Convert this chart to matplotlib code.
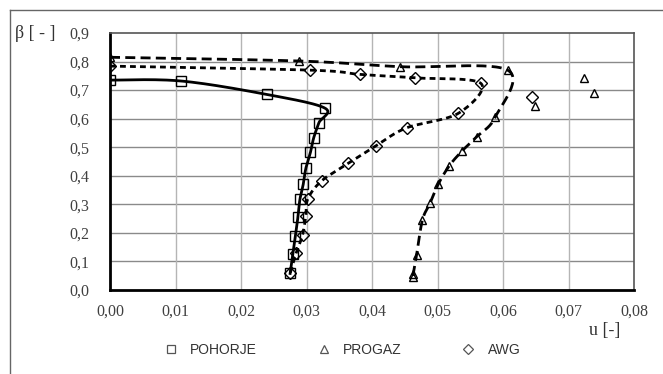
import numpy as np
import matplotlib
matplotlib.use("Agg")
import matplotlib.pyplot as plt
from matplotlib.lines import Line2D

# measured points, (u, beta) along each curve
pohorje_u = [0.0000, 0.0108, 0.0239, 0.0328, 0.0319, 0.0311, 0.0306, 0.0299,
             0.0295, 0.0290, 0.0287, 0.0283, 0.0279, 0.0275]
pohorje_b = [0.735, 0.732, 0.685, 0.637, 0.586, 0.533, 0.482, 0.426,
             0.370, 0.318, 0.257, 0.189, 0.125, 0.058]

progaz_u = [0.0000, 0.0288, 0.0443, 0.0607, 0.0588, 0.0560, 0.0538, 0.0518,
            0.0501, 0.0489, 0.0477, 0.0468, 0.0463, 0.0462]
progaz_b = [0.815, 0.802, 0.782, 0.770, 0.605, 0.537, 0.488, 0.435,
            0.370, 0.306, 0.245, 0.122, 0.056, 0.046]

awg_u = [0.0000, 0.0305, 0.0382, 0.0465, 0.0566, 0.0532, 0.0453, 0.0406,
         0.0364, 0.0323, 0.0302, 0.0299, 0.0294, 0.0284, 0.0275]
awg_b = [0.784, 0.770, 0.755, 0.743, 0.724, 0.619, 0.568, 0.505,
         0.444, 0.382, 0.319, 0.259, 0.193, 0.128, 0.058]

# loose points not on the curves
progaz_extra_u = [0.0724, 0.0739, 0.0649]
progaz_extra_b = [0.741, 0.691, 0.644]
awg_extra_u = [0.0645]
awg_extra_b = [0.675]

x_ticks = [0.00, 0.01, 0.02, 0.03, 0.04, 0.05, 0.06, 0.07, 0.08]
y_ticks = [0.0, 0.1, 0.2, 0.3, 0.4, 0.5, 0.6, 0.7, 0.8, 0.9]

W, H = 663, 374
AX_L, AX_R, AX_T, AX_B = 110, 634, 33, 290
# pixels per data unit, so the smoothing is done in screen space
SX = (AX_R - AX_L) / 0.08
SY = (AX_B - AX_T) / 0.9


def smooth(u, b, n=30):
    # catmull-rom through the points (like a spreadsheet "smoothed line")
    p = np.column_stack([np.array(u) * SX, np.array(b) * SY])
    p = np.vstack([p[0], p, p[-1]])
    out = []
    t = np.linspace(0, 1, n)[:, None]
    for i in range(1, len(p) - 2):
        p0, p1, p2, p3 = p[i - 1], p[i], p[i + 1], p[i + 2]
        c1 = p1 + (p2 - p0) / 6
        c2 = p2 - (p3 - p1) / 6
        seg = ((1 - t) ** 3) * p1 + 3 * ((1 - t) ** 2) * t * c1 + 3 * (1 - t) * t ** 2 * c2 + t ** 3 * p2
        out.append(seg if i == 1 else seg[1:])
    out = np.vstack(out)
    return out[:, 0] / SX, out[:, 1] / SY


fig = plt.figure(figsize=(W / 100, H / 100), dpi=100)
ax = fig.add_axes([AX_L / W, 1 - AX_B / H, (AX_R - AX_L) / W, (AX_B - AX_T) / H])

ax.set_xlim(0, 0.08)
ax.set_ylim(0, 0.9)
ax.set_xticks(x_ticks)
ax.set_yticks(y_ticks)
ax.set_xticklabels([f"{v:.2f}".replace(".", ",") for v in x_ticks])
ax.set_yticklabels([f"{v:.1f}".replace(".", ",") for v in y_ticks])
ax.tick_params(length=0, labelsize=11.5, labelcolor="#404040")
ax.tick_params(axis="x", pad=10)
ax.tick_params(axis="y", pad=15)
for lab in ax.get_xticklabels() + ax.get_yticklabels():
    lab.set_fontfamily("Liberation Serif")

for v in y_ticks[1:-1]:
    ax.axhline(v, color="#8a8a8a", lw=1.0, zorder=0)
for v in x_ticks[1:-1]:
    ax.axvline(v, color="#b5b5b5", lw=1.0, zorder=0)

ax.spines["left"].set_linewidth(2.0)
ax.spines["bottom"].set_linewidth(2.0)
ax.spines["top"].set_color("#555555")
ax.spines["right"].set_color("#555555")
ax.spines["top"].set_linewidth(1.2)
ax.spines["right"].set_linewidth(1.2)

mk = dict(mfc="none", mec="black", mew=1.0, ls="none", zorder=4)

su, sb = smooth(pohorje_u, pohorje_b)
ax.plot(su, sb, color="black", lw=2.0, zorder=3)
ax.plot(pohorje_u, pohorje_b, marker="s", ms=6.5, **mk)

su, sb = smooth(progaz_u, progaz_b)
ax.plot(su, sb, color="black", lw=2.0, dashes=(3.6, 1.9), zorder=3)
ax.plot(progaz_u, progaz_b, marker="^", ms=6, **mk)
ax.plot(progaz_extra_u, progaz_extra_b, marker="^", ms=6, **mk)

su, sb = smooth(awg_u, awg_b)
ax.plot(su, sb, color="black", lw=2.0, dashes=(2.1, 1.5), zorder=3)
ax.plot(awg_u, awg_b, marker="D", ms=6.5, **mk)
ax.plot(awg_extra_u, awg_extra_b, marker="D", ms=6.5, **mk)

fig.text(15 / W, 1 - 33 / H, "β [ - ]", fontsize=13, family="Liberation Serif",
         color="#333333", va="center", ha="left")
fig.text(605 / W, 1 - 330 / H, "u [-]", fontsize=13, family="Liberation Serif",
         color="#333333", va="center", ha="center")

handles = [
    Line2D([], [], marker="s", ms=6, mfc="white", mec="#555555", mew=0.9, ls="none"),
    Line2D([], [], marker="^", ms=6, mfc="white", mec="#555555", mew=0.9, ls="none"),
    Line2D([], [], marker="D", ms=5, mfc="white", mec="#555555", mew=0.9, ls="none"),
]
fig.legend(handles, ["POHORJE", "PROGAZ", "AWG"], loc="center",
           bbox_to_anchor=(342 / W, 1 - 350 / H), ncol=3, frameon=False,
           prop={"family": "Liberation Sans", "size": 10},
           handlelength=1.0, handletextpad=0.9, columnspacing=4.3,
           labelcolor="#333333")

# frame lines along the top and left of the figure
fig.add_artist(Line2D([10 / W, 1], [1 - 10 / H, 1 - 10 / H], color="#666666", lw=1.0))
fig.add_artist(Line2D([10 / W, 10 / W], [0, 1 - 10 / H], color="#666666", lw=1.0))

fig.savefig("out.png", dpi=100)
